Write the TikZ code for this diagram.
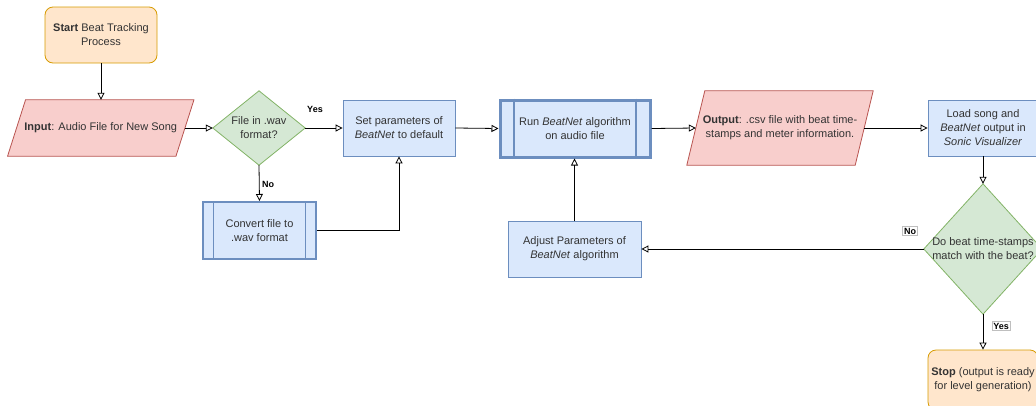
\documentclass[tikz,border=0pt]{standalone}
\usepackage{fontspec}
\setmainfont{Liberation Sans}
\usetikzlibrary{arrows.meta,calc}
\definecolor{orfill}{HTML}{FFE6CC}\definecolor{ordraw}{HTML}{D79B00}
\definecolor{rdfill}{HTML}{F8CECC}\definecolor{rddraw}{HTML}{B85450}
\definecolor{gnfill}{HTML}{D5E8D4}\definecolor{gndraw}{HTML}{82B366}
\definecolor{blfill}{HTML}{DAE8FC}\definecolor{bldraw}{HTML}{6C8EBF}
\definecolor{txt}{HTML}{333333}
\tikzset{
  x=1pt,y=-1pt,
  every node/.style={font=\fontsize{11}{14}\selectfont,text=txt,align=center,inner sep=0pt},
  term/.style={rectangle,rounded corners=8pt,draw=ordraw,fill=orfill,line width=0.8pt},
  proc/.style={rectangle,draw=bldraw,fill=blfill,line width=0.8pt},
  sub/.style={rectangle,draw=bldraw,fill=blfill},
  shp/.style={rectangle},
  conn/.style={-{Triangle[open,length=7pt,width=7pt]},line width=0.8pt,black},
  lab/.style={font=\fontsize{9}{10}\selectfont\bfseries,text=black},
  boxlab/.style={lab,fill=white,draw=black!25,inner sep=1.5pt,line width=0.4pt},
}
\newcommand{\para}[3]{% node, fill, draw ; skew 9
  \draw[fill=#2,draw=#3,line width=0.8pt]
    ($(#1.north west)+(9,0)$) -- ($(#1.north east)+(9,0)$) --
    ($(#1.south east)+(-9,0)$) -- ($(#1.south west)+(-9,0)$) -- cycle;}
\newcommand{\dia}[1]{%
  \draw[fill=gnfill,draw=gndraw,line width=0.8pt]
    (#1.north) -- (#1.east) -- (#1.south) -- (#1.west) -- cycle;}
\newcommand{\bars}[1]{%
  \draw[draw=bldraw,line width=1.5pt]
    ($(#1.north west)!0.1!(#1.north east)$) -- ($(#1.south west)!0.1!(#1.south east)$)
    ($(#1.north west)!0.9!(#1.north east)$) -- ($(#1.south west)!0.9!(#1.south east)$);}
\begin{document}
\begin{tikzpicture}
\useasboundingbox (0,0) rectangle (1036,405);
% shapes with geometry drawn first
\node[shp,minimum width=168pt,minimum height=56pt] (inp) at (100.75,128) {};
\para{inp}{rdfill}{rddraw}
\node at (inp) {\textbf{Input}: Audio File for New Song};

\node[shp,minimum width=92pt,minimum height=74pt] (d1) at (259,128) {};
\dia{d1}
\node at (d1) {File in .wav\\format?};

\node[shp,minimum width=168pt,minimum height=74pt] (out) at (780,128) {};
\para{out}{rdfill}{rddraw}
\node at (out) {\textbf{Output}: .csv file with beat time-\\stamps and meter information.};

\node[shp,minimum width=118pt,minimum height=130pt] (d2) at (983,249) {};
\dia{d2}
\node at (d2) {Do beat time-stamps\\match with the beat?};

% boxes
\node[term,minimum width=112pt,minimum height=56pt] (start) at (101,35) {\textbf{Start} Beat Tracking\\Process};
\node[proc,minimum width=112pt,minimum height=56pt] (set) at (399,128) {Set parameters of\\\textit{BeatNet} to default};
\node[sub,line width=2pt,minimum width=113pt,minimum height=57pt] (conv) at (259.5,230.5) {Convert file to\\.wav format};
\bars{conv}
\node[sub,line width=3pt,minimum width=150pt,minimum height=57pt] (run) at (575,128.5) {Run \textit{BeatNet} algorithm\\on audio file};
\bars{run}
\node[proc,minimum width=110pt,minimum height=56pt] (load) at (983,128) {Load song and\\\textit{BeatNet} output in\\\textit{Sonic Visualizer}};
\node[proc,minimum width=133pt,minimum height=56pt] (adj) at (574.5,249) {Adjust Parameters of\\\textit{BeatNet} algorithm};
\node[term,minimum width=110pt,minimum height=60pt] (stop) at (983,380) {\textbf{Stop} (output is ready\\for level generation)};

% connectors
\draw[conn] (start.south) -- (start.south |- inp.north);
\draw[conn] (inp.east) -- (d1.west);
\draw[conn] (d1.east) -- (set.west);
\node[lab] (ly1) at (315,109) {Yes};
\draw[conn] (d1.south) -- (conv.north);
\node[lab] (ln1) at (268,184) {No};
\draw[conn] (conv.east) -| (set.south);
\draw[conn] (set.east) -- (run.west);
\draw[conn] (run.east) -- (out.west);
\draw[conn] (out.east) -- (load.west);
\draw[conn] (load.south) -- (d2.north);
\draw[conn] (d2.west) -- (adj.east);
\node[boxlab] (ln2) at (910,231) {No};
\draw[conn] (adj.north) -- (adj.north |- run.south);
\draw[conn] (d2.south) -- (stop.north);
\node[boxlab] (ly2) at (1001,326) {Yes};
\end{tikzpicture}
\end{document}
